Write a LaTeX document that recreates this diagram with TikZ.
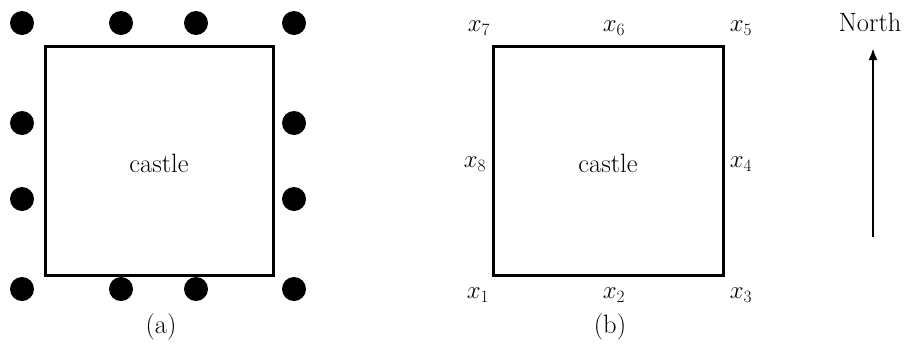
\documentclass[tikz,border=0pt]{standalone}
\usetikzlibrary{arrows.meta}
\begin{document}
\begin{tikzpicture}[x=1pt,y=-1pt,
  every node/.style={font=\fontsize{26.5}{30}\selectfont, inner sep=0pt},
  castlebox/.style={draw, line width=3pt},
  guard/.style={circle, fill=black, minimum size=24pt, inner sep=0pt}]
\useasboundingbox (0,0) rectangle (905,349);
% (a)
\draw[castlebox] (45,46) rectangle (273,275);
\node (ca) at (159,163) {castle};
\node (la) at (161,327) {(a)};
\foreach \n/\x/\y in {a1/22/23,a2/121/23,a3/196/23,a4/294/23,
                      a5/22/123,a6/294/123,a7/22/199,a8/294/199,
                      a9/22/289,a10/121/289,a11/196/289,a12/294/289}
  \node[guard] (\n) at (\x,\y) {};
% (b)
\draw[castlebox] (493,46) rectangle (723,275);
\node (cb) at (608,163) {castle};
\node (lb) at (610,327) {(b)};
\node (x7) at (479,28) {$x_7$};
\node (x6) at (614,28) {$x_6$};
\node (x5) at (741,28) {$x_5$};
\node (x8) at (475,164) {$x_8$};
\node (x4) at (741,164) {$x_4$};
\node (x1) at (478,295) {$x_1$};
\node (x2) at (614,295) {$x_2$};
\node (x3) at (741,295) {$x_3$};
% North arrow
\node (north) at (870,22) {North};
\coordinate (nbot) at (873,237);
\coordinate (ntop) at (873,48);
\draw[line width=2.5pt, -{Latex[length=12pt,width=9pt]}] (nbot) -- (ntop);
\end{tikzpicture}
\end{document}
